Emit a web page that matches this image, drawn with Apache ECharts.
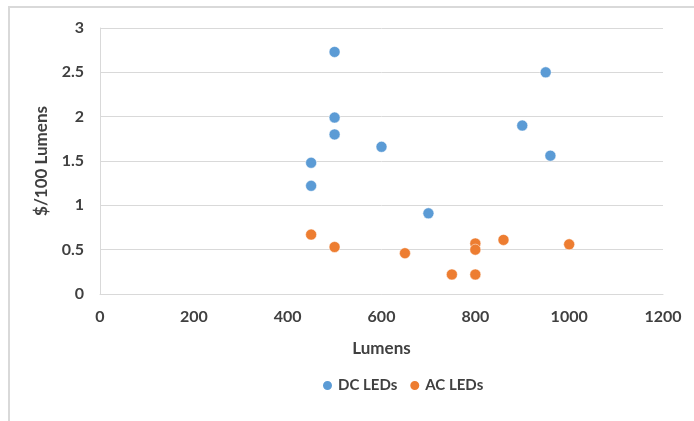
<!DOCTYPE html>
<html><head><meta charset="utf-8">
<script src="https://cdn.jsdelivr.net/npm/echarts@6/dist/echarts.min.js"></script>
<style>html,body{margin:0;padding:0;background:#fff}#c{width:694px;height:421px}</style>
</head><body><div id="c"></div>
<script>
const dcLumens = [500, 500, 500, 450, 450, 600, 950, 900, 960, 700];
const dcCost   = [2.73, 1.99, 1.8, 1.48, 1.22, 1.66, 2.5, 1.9, 1.56, 0.91];
const acLumens = [450, 500, 650, 750, 800, 800, 800, 860, 1000];
const acCost   = [0.67, 0.53, 0.46, 0.22, 0.22, 0.57, 0.5, 0.61, 0.56];
const seriesNames = ['DC LEDs', 'AC LEDs'];
const xName = 'Lumens';
const yName = '$/100 Lumens';

const font = 'Lato, "Open Sans", sans-serif';
const txt = '#404040';
const chart = echarts.init(document.getElementById('c'));
chart.setOption({
  animation: false,
  textStyle: { fontFamily: font },
  graphic: [{ type: 'rect', shape: { x: 9, y: 7, width: 700, height: 430 },
    style: { fill: 'none', stroke: '#d9d9d9', lineWidth: 2 }, silent: true }],
  grid: { left: 100, right: 31, top: 28, bottom: 127 },
  xAxis: {
    type: 'value', min: 0, max: 1200, interval: 200,
    name: xName, nameLocation: 'middle', nameGap: 46,
    nameTextStyle: { fontFamily: font, fontWeight: 'bold', fontSize: 17, color: txt },
    axisLine: { show: true, lineStyle: { color: '#d9d9d9' } },
    axisTick: { show: false },
    splitLine: { show: false },
    axisLabel: { fontFamily: font, fontWeight: 'bold', fontSize: 16, color: txt, margin: 15,
      formatter: v => String(v) }
  },
  yAxis: {
    type: 'value', min: 0, max: 3, interval: 0.5,
    name: yName, nameLocation: 'middle', nameGap: 50, nameRotate: 90,
    nameTextStyle: { fontFamily: font, fontWeight: 'bold', fontSize: 17, color: txt },
    axisLine: { show: true, lineStyle: { color: '#d9d9d9' } },
    axisTick: { show: false },
    splitLine: { lineStyle: { color: '#d9d9d9' } },
    axisLabel: { fontFamily: font, fontWeight: 'bold', fontSize: 16, color: txt, margin: 16,
      formatter: v => String(v) }
  },
  legend: {
    bottom: 23, left: 316, itemWidth: 11, itemHeight: 11, itemGap: 11,
    icon: 'circle',
    textStyle: { fontFamily: font, fontWeight: 'bold', fontSize: 15, color: txt },
    data: seriesNames
  },
  series: [
    { name: seriesNames[0], type: 'scatter', symbolSize: 11,
      itemStyle: { color: '#5B9BD5', borderColor: '#fff', borderWidth: 0.5, opacity: 1 },
      data: dcLumens.map((x, i) => [x, dcCost[i]]) },
    { name: seriesNames[1], type: 'scatter', symbolSize: 11,
      itemStyle: { color: '#ED7D31', borderColor: '#fff', borderWidth: 0.5, opacity: 1 },
      data: acLumens.map((x, i) => [x, acCost[i]]) }
  ]
});
</script></body></html>
